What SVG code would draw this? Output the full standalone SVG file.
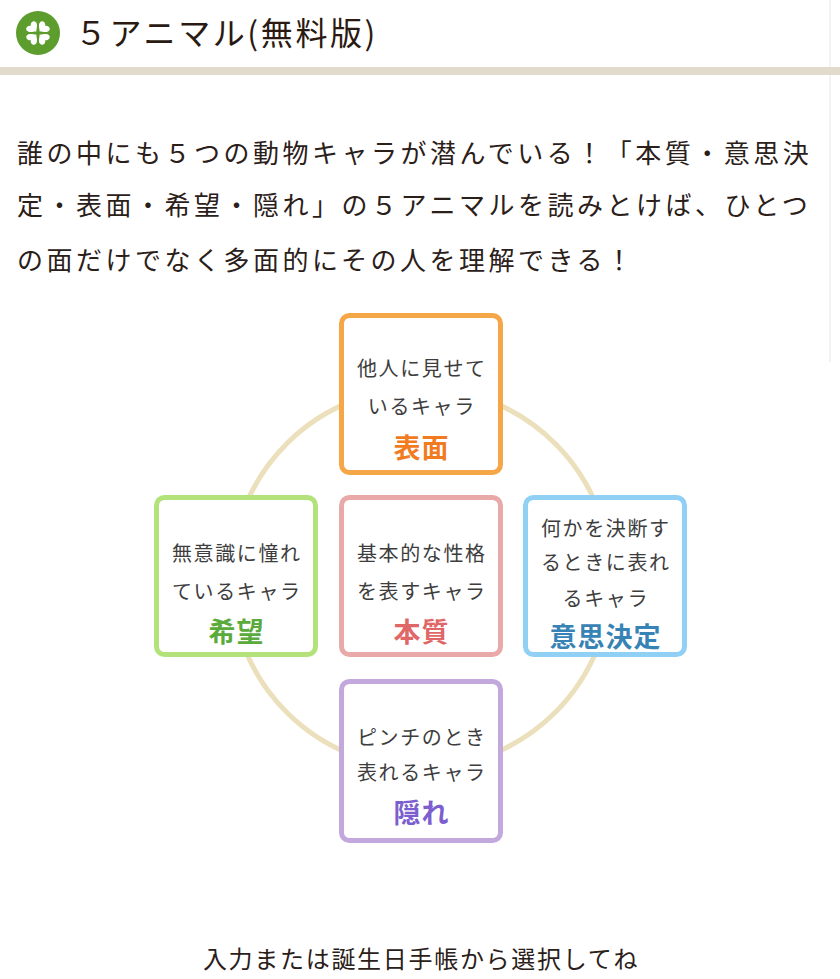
<svg xmlns="http://www.w3.org/2000/svg" width="840" height="979" viewBox="0 0 840 979">
  <defs>
    <style>
      .jp { font-family: "Noto Sans CJK JP", "Noto Sans", sans-serif; }
      .title { font-size: 32px; fill: #2a1a12; letter-spacing: 2.6px; }
      .para { font-size: 26px; fill: #2b2019; letter-spacing: 3.5px; }
      .desc { font-size: 20px; fill: #3d3d3d; letter-spacing: 1.6px; text-anchor: middle; }
      .label { font-size: 27px; font-weight: bold; letter-spacing: 1px; text-anchor: middle; }
      .box { fill: #ffffff; stroke-width: 5; }
      .foot { font-size: 24px; fill: #2b2019; letter-spacing: 1.7px; text-anchor: middle; }
    </style>
    <path id="leaf" d="M0,-2.2 C-1,-3.8 -6.4,-5.8 -6.2,-9.4 C-6,-12.6 -1.6,-12.9 0,-10.1 C1.6,-12.9 6,-12.6 6.2,-9.4 C6.4,-5.8 1,-3.8 0,-2.2 Z" fill="#ffffff"/>
  </defs>
  <rect x="0" y="0" width="840" height="979" fill="#ffffff"/>
  <line x1="830" y1="0" x2="830" y2="362" stroke="#efefef" stroke-width="1.5"/>

  <g id="header">
    <circle cx="38" cy="33" r="22" fill="#5c9d2d"/>
    <use href="#leaf" transform="translate(38,33) rotate(45)"/>
    <use href="#leaf" transform="translate(38,33) rotate(135)"/>
    <use href="#leaf" transform="translate(38,33) rotate(225)"/>
    <use href="#leaf" transform="translate(38,33) rotate(315)"/>
    <text class="jp title" x="75" y="45">５アニマル(無料版)</text>
    <rect x="0" y="67" width="840" height="8" fill="#e2dacd"/>
  </g>

  <g id="intro" class="jp para">
    <text x="17" y="163">誰の中にも５つの動物キャラが潜んでいる！「本質・意思決</text>
    <text x="17" y="215">定・表面・希望・隠れ」の５アニマルを読みとけば、ひとつ</text>
    <text x="17" y="270">の面だけでなく多面的にその人を理解できる！</text>
  </g>

  <g id="connectors">
    <circle cx="421" cy="578" r="190" fill="none" stroke="#ebe0bb" stroke-width="5"/>
  </g>

  <g id="node-hyomen">
    <rect class="box" x="341.5" y="315.5" width="159" height="157" rx="8" stroke="#f5a748"/>
    <text class="jp desc" x="421.8" y="376">他人に見せて</text>
    <text class="jp desc" x="421.8" y="413.5">いるキャラ</text>
    <text class="jp label" x="421.5" y="458" fill="#f07c1f">表面</text>
  </g>

  <g id="node-kibou">
    <rect class="box" x="156.5" y="497.5" width="159" height="157" rx="8" stroke="#b3e27b"/>
    <text class="jp desc" x="236.8" y="561">無意識に憧れ</text>
    <text class="jp desc" x="236.8" y="598.5">ているキャラ</text>
    <text class="jp label" x="236.5" y="642" fill="#5aaa3c">希望</text>
  </g>

  <g id="node-honshitsu">
    <rect class="box" x="341.5" y="497.5" width="159" height="157" rx="8" stroke="#eaa9a9"/>
    <text class="jp desc" x="421.8" y="561">基本的な性格</text>
    <text class="jp desc" x="421.8" y="598.5">を表すキャラ</text>
    <text class="jp label" x="421.5" y="642" fill="#df6767">本質</text>
  </g>

  <g id="node-ishikettei">
    <rect class="box" x="525.5" y="497.5" width="159" height="157" rx="8" stroke="#8fd0f4"/>
    <text class="jp desc" x="605.8" y="535.5">何かを決断す</text>
    <text class="jp desc" x="605.8" y="570">るときに表れ</text>
    <text class="jp desc" x="605.8" y="605.5">るキャラ</text>
    <text class="jp label" x="605.5" y="647" fill="#3883b5">意思決定</text>
  </g>

  <g id="node-kakure">
    <rect class="box" x="341.5" y="681.5" width="159" height="159" rx="8" stroke="#c3a8dd"/>
    <text class="jp desc" x="421.8" y="744.5">ピンチのとき</text>
    <text class="jp desc" x="421.8" y="779.5">表れるキャラ</text>
    <text class="jp label" x="421.5" y="823" fill="#7d5ece">隠れ</text>
  </g>

  <g id="footer">
    <text class="jp foot" x="421" y="968">入力または誕生日手帳から選択してね</text>
  </g>
</svg>
